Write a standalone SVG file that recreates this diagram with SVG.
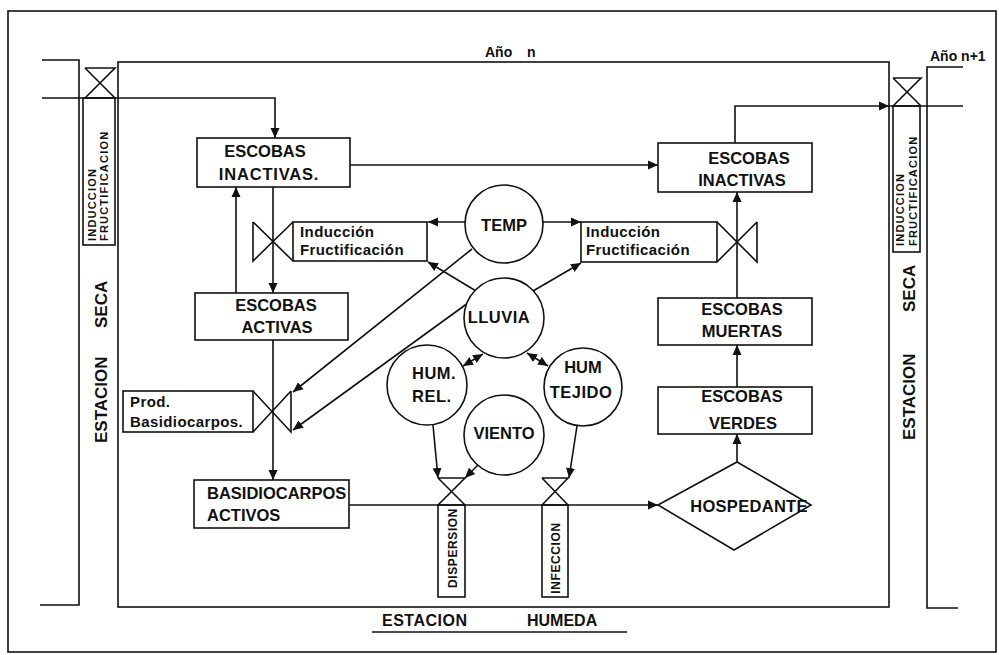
<svg xmlns="http://www.w3.org/2000/svg" width="999" height="655" viewBox="0 0 999 655">
<defs>
<marker id="ah" viewBox="0 0 10 10" markerWidth="10" markerHeight="10" refX="10" refY="5" orient="auto-start-reverse" markerUnits="userSpaceOnUse">
<path d="M0,0.5 L10,5 L0,9.5 z" fill="#111"/>
</marker>
<style>
.ln{fill:none;stroke:#111;stroke-width:1.6}
.bx{fill:#fff;stroke:#111;stroke-width:1.6}
.ar{fill:none;stroke:#111;stroke-width:1.6;marker-end:url(#ah)}
.da{fill:none;stroke:#111;stroke-width:1.6;marker-end:url(#ah);marker-start:url(#ah)}
.t{font-family:"Liberation Sans",Arial,sans-serif;font-weight:bold;fill:#111}
.b{font-size:16.5px}
.m{font-size:15px;letter-spacing:0.4px}
.s{font-size:11px;letter-spacing:1.2px}
.c{text-anchor:middle}
</style>
</defs>
<rect width="999" height="655" fill="#fff"/>
<rect x="8" y="11" width="988" height="641" class="ln" stroke-width="1.2"/>

<g id="frame">
<rect x="118" y="62" width="771" height="545" class="ln"/>
<polyline points="42,60 79,60 79,605 40,605" class="ln"/>
<polyline points="963,67 927,67 927,608 958,608" class="ln"/>
<text x="485" y="57" class="t" font-size="14">Año</text>
<text x="527" y="57" class="t" font-size="14">n</text>
<text x="930" y="61" class="t" font-size="14">Año n+1</text>
<text transform="translate(107,443) rotate(-90)" class="t" font-size="17">ESTACION</text>
<text transform="translate(107,328) rotate(-90)" class="t" font-size="17">SECA</text>
<text transform="translate(915,440) rotate(-90)" class="t" font-size="17">ESTACION</text>
<text transform="translate(915,312) rotate(-90)" class="t" font-size="17">SECA</text>
<text x="382" y="626" class="t" font-size="16" letter-spacing="0.5">ESTACION</text>
<text x="527" y="626" class="t" font-size="16">HUMEDA</text>
<line x1="372" y1="632" x2="627" y2="632" class="ln"/>
</g>

<g id="connectors">
<polyline points="42,98 275,98 275,138" class="ar"/>
<line x1="273" y1="187" x2="273" y2="293" class="ar"/>
<line x1="236" y1="293" x2="236" y2="187" class="ar"/>
<line x1="273" y1="340" x2="273" y2="480" class="ar"/>
<line x1="350" y1="165" x2="658" y2="165" class="ar"/>
<line x1="465" y1="222" x2="428" y2="222" class="ar"/>
<line x1="543" y1="222" x2="581" y2="222" class="ar"/>
<line x1="476" y1="291" x2="428" y2="262" class="ar"/>
<line x1="533" y1="291" x2="581" y2="263" class="ar"/>
<line x1="472" y1="249" x2="293" y2="392" class="ar"/>
<line x1="468" y1="303" x2="293" y2="430" class="ar"/>
<line x1="483" y1="354" x2="463" y2="366" class="da"/>
<line x1="527" y1="353" x2="548" y2="366" class="da"/>
<line x1="433" y1="425" x2="438" y2="478" class="ar"/>
<line x1="478" y1="465" x2="465" y2="478" class="ar"/>
<line x1="577" y1="426" x2="569" y2="478" class="ar"/>
<line x1="349" y1="505" x2="658" y2="505" class="ar"/>
<line x1="737" y1="462" x2="737" y2="434" class="ar"/>
<line x1="737" y1="387" x2="737" y2="345" class="ar"/>
<line x1="737" y1="298" x2="737" y2="192" class="ar"/>
<polyline points="735,143 735,106 889,106" class="ar"/>
<line x1="889" y1="106" x2="963" y2="106" class="ln"/>
</g>

<g id="valve-left-top">
<path d="M85,68 H115 L85,98 M85,68 L115,98" class="ln"/>
<rect x="83" y="98" width="32" height="147" class="ln"/>
<text transform="translate(96,241) rotate(-90)" class="t s">INDUCCION</text>
<text transform="translate(108,241) rotate(-90)" class="t s">FRUCTIFICACION</text>
</g>

<g id="valve-right-top">
<path d="M893,78 H921 L893,106 M893,78 L921,106" class="ln"/>
<rect x="893" y="106" width="27" height="146" class="ln"/>
<text transform="translate(904,246) rotate(-90)" class="t s">INDUCCION</text>
<text transform="translate(917,246) rotate(-90)" class="t s">FRUCTIFICACION</text>
</g>

<g id="escobas-inactivas-1">
<rect x="197" y="138" width="153" height="49" class="bx"/>
<text x="265" y="157" class="t b c">ESCOBAS</text>
<text x="269" y="180" class="t b c" letter-spacing="0.8">INACTIVAS.</text>
</g>

<g id="escobas-activas">
<rect x="195" y="293" width="153" height="47" class="bx"/>
<text x="276" y="311" class="t b c">ESCOBAS</text>
<text x="277" y="333" class="t b c">ACTIVAS</text>
</g>

<g id="basidiocarpos-activos">
<rect x="194" y="480" width="155" height="48" class="bx"/>
<text x="207" y="499" class="t b">BASIDIOCARPOS</text>
<text x="207" y="521" class="t b">ACTIVOS</text>
</g>

<g id="valve-induccion-left">
<path d="M253,222 V261 L293,222 M253,222 L293,261" class="ln"/>
<rect x="293" y="222" width="134" height="39" class="ln"/>
<text x="300" y="237" class="t m">Inducción</text>
<text x="300" y="255" class="t m">Fructificación</text>
</g>

<g id="valve-induccion-right">
<rect x="581" y="222" width="136" height="40" class="ln"/>
<path d="M757,222 V262 L717,222 M757,222 L717,262" class="ln"/>
<text x="586" y="237" class="t m">Inducción</text>
<text x="586" y="255" class="t m">Fructificación</text>
</g>

<g id="valve-prod">
<rect x="123" y="391" width="130" height="41" class="ln"/>
<path d="M291,391 V432 L253,391 M291,391 L253,432" class="ln"/>
<text x="130" y="407" class="t m">Prod.</text>
<text x="130" y="427" class="t m">Basidiocarpos.</text>
</g>

<g id="temp">
<circle cx="504" cy="224" r="39" class="bx"/>
<text x="504" y="231" class="t b c">TEMP</text>
</g>
<g id="lluvia">
<circle cx="504" cy="318" r="40" class="bx"/>
<text x="499" y="323" class="t b c" letter-spacing="0.5">LLUVIA</text>
</g>
<g id="hum-rel">
<circle cx="427" cy="385" r="40" class="bx"/>
<text x="412" y="379" class="t b" letter-spacing="0.5">HUM.</text>
<text x="412" y="402" class="t b" letter-spacing="0.5">REL.</text>
</g>
<g id="hum-tejido">
<circle cx="583" cy="387" r="39" class="bx"/>
<text x="583" y="373" class="t b c">HUM</text>
<text x="581" y="398" class="t b c" letter-spacing="0.5">TEJIDO</text>
</g>
<g id="viento">
<circle cx="504" cy="435" r="40" class="bx"/>
<text x="504" y="439" class="t b c">VIENTO</text>
</g>

<g id="valve-dispersion">
<path d="M438,478 H465 L438,505 M438,478 L465,505" class="ln"/>
<rect x="438" y="505" width="27" height="92" class="ln"/>
<text transform="translate(457,548) rotate(-90)" class="t c" font-size="12" letter-spacing="0.6">DISPERSION</text>
</g>

<g id="valve-infeccion">
<path d="M542,478 H568 L542,505 M542,478 L568,505" class="ln"/>
<rect x="542" y="505" width="26" height="92" class="ln"/>
<text transform="translate(560,558) rotate(-90)" class="t c" font-size="12" letter-spacing="0.6">INFECCION</text>
</g>

<g id="hospedante">
<polygon points="658,505 737,462 811,505 734,550" class="bx"/>
<text x="749" y="512" class="t b c" letter-spacing="0.3">HOSPEDANTE</text>
</g>

<g id="escobas-inactivas-2">
<rect x="658" y="143" width="154" height="49" class="bx"/>
<text x="749" y="164" class="t b c">ESCOBAS</text>
<text x="742" y="186" class="t b c">INACTIVAS</text>
</g>
<g id="escobas-muertas">
<rect x="658" y="298" width="154" height="47" class="bx"/>
<text x="742" y="315" class="t b c">ESCOBAS</text>
<text x="742" y="337" class="t b c">MUERTAS</text>
</g>
<g id="escobas-verdes">
<rect x="658" y="387" width="154" height="47" class="bx"/>
<text x="742" y="402" class="t b c">ESCOBAS</text>
<text x="743" y="429" class="t b c">VERDES</text>
</g>
</svg>
